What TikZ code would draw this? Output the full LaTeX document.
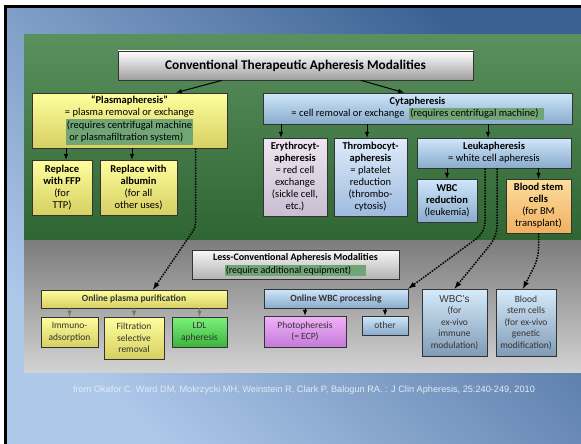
\documentclass[tikz,border=0pt]{standalone}
\usepackage{fontspec}
\setmainfont{Carlito}
\newfontfamily\arialfont{Liberation Sans}
\usetikzlibrary{arrows}

\definecolor{slidedark}{HTML}{3B6193}
\definecolor{slidemid}{HTML}{7AA0D0}
\definecolor{slidelight}{HTML}{AEC8EA}
\definecolor{grtop}{HTML}{5A905E}
\definecolor{grbot}{HTML}{2F6433}
\definecolor{gytop}{HTML}{7C7C7C}
\definecolor{gybot}{HTML}{D2D2D2}
\definecolor{hl}{HTML}{72A575}
\definecolor{yltop}{HTML}{FFFF9E}
\definecolor{ylbot}{HTML}{D6CF62}
\definecolor{bltop}{HTML}{CFE7FA}
\definecolor{blbot}{HTML}{89ABCB}
\definecolor{lltop}{HTML}{EEE6F0}
\definecolor{llbot}{HTML}{C9BDD1}
\definecolor{tbtop}{HTML}{DFEBF9}
\definecolor{tbbot}{HTML}{9EBBE0}
\definecolor{ortop}{HTML}{FDDE9E}
\definecolor{orbot}{HTML}{F0B060}
\definecolor{lgtop}{HTML}{7CF27C}
\definecolor{lgbot}{HTML}{3CB43C}
\definecolor{pktop}{HTML}{F2B2F8}
\definecolor{pkbot}{HTML}{C47AD8}
\definecolor{sttop}{HTML}{D6EBFB}
\definecolor{stbot}{HTML}{7F9BB6}
\definecolor{grarrow}{HTML}{7A7A62}
\definecolor{srctext}{HTML}{E2EAF4}

\setlength{\fboxsep}{1pt}

\tikzset{
  box/.style={draw=black!80, line width=0.7pt, align=center, inner sep=1pt,
    font=\fontsize{10.5}{12}\selectfont},
  lowbox/.style={box, text=black!80, font=\fontsize{9.5}{11.5}\selectfont},
  yellowbox/.style={box, top color=yltop, bottom color=ylbot},
  bluebox/.style={box, top color=bltop, bottom color=blbot},
  lilacbox/.style={box, top color=lltop, bottom color=llbot},
  thrombobox/.style={box, top color=tbtop, bottom color=tbbot},
  orangebox/.style={box, top color=ortop, bottom color=orbot},
  greybox/.style={box, top color=white, bottom color=black!38},
  arr/.style={-latex, line width=1pt},
  grayarr/.style={-latex, line width=1pt, grarrow},
  dotarr/.style={-latex, line width=1.5pt, dash pattern=on 1.5pt off 1.2pt}
}

\begin{document}
\begin{tikzpicture}[x=1pt, y=-1pt]
\useasboundingbox (0,0) rectangle (581,444);
% slide and panels
\fill[white] (0,0) rectangle (581,444);
\shade[top color=slidedark, middle color=slidemid, bottom color=slidelight, shading angle=-45] (7,8) rectangle (581,444);
\draw[black, line width=2.5pt] (5.5,444) -- (5.5,6.5) -- (581,6.5);
\shade[top color=grtop, bottom color=grbot] (24,35) rectangle (581,240);
\shade[top color=gytop, bottom color=gybot] (24,240) rectangle (581,372);

% conventional modalities
\node[greybox, minimum width=355pt, minimum height=29pt, font=\bfseries\fontsize{13.3}{15}\selectfont] (title) at (295.5,65.5) {Conventional Therapeutic Apheresis Modalities};

\node[yellowbox, minimum width=195pt, minimum height=55pt] (plasma) at (129.5,120.5) {\textbf{“Plasmapheresis”}\\= plasma removal or exchange\\[1pt]
  \colorbox{hl}{\begin{tabular}{@{}l@{}}(requires centrifugal machine\\ \ or plasmafiltration system)\end{tabular}}};
\node[yellowbox, minimum width=60pt, minimum height=55pt] (ffp) at (62,187.5) {\textbf{Replace}\\\textbf{with FFP}\\(for\\TTP)};
\node[yellowbox, minimum width=77pt, minimum height=55pt] (albumin) at (138.5,187.5) {\textbf{Replace with}\\\textbf{albumin}\\(for all\\other uses)};

\node[bluebox, minimum width=309pt, minimum height=31pt] (cyta) at (417.5,108.5) {\textbf{Cytapheresis}\\= cell removal or exchange \ \colorbox{hl}{(requires centrifugal machine)\hspace{4pt}}};
\node[lilacbox, minimum width=64pt, minimum height=78pt] (ery) at (295,177) {\textbf{Erythrocyt-}\\\textbf{apheresis}\\= red cell\\exchange\\(sickle cell,\\etc.)};
\node[thrombobox, minimum width=73pt, minimum height=78pt] (thrombo) at (370.5,177) {\textbf{Thrombocyt-}\\\textbf{apheresis}\\= platelet\\reduction\\(thrombo-\\cytosis)};
\node[bluebox, minimum width=154pt, minimum height=30pt] (leuka) at (494,153) {\textbf{Leukapheresis}\\= white cell apheresis};
\node[bluebox, minimum width=60pt, minimum height=43pt] (wbcred) at (447,200.5) {\textbf{WBC}\\\textbf{reduction}\\(leukemia)};
\node[orangebox, minimum width=65pt, minimum height=54pt] (stem) at (538.5,206) {\textbf{Blood stem}\\\textbf{cells}\\(for BM\\transplant)};

% less-conventional modalities
\node[greybox, top color=white!97!black, bottom color=black!30, minimum width=207pt, minimum height=29pt, font=\fontsize{10}{13}\selectfont] (lessconv) at (295.5,264.5) {\textbf{Less-Conventional Apheresis Modalities}\\\colorbox{hl}{(require additional equipment)\hspace{14pt}}};

\node[lowbox, top color=yltop, bottom color=ylbot, minimum width=186pt, minimum height=18pt] (onplasma) at (134,299) {\textbf{Online plasma purification}};
\node[lowbox, top color=yltop, bottom color=ylbot, minimum width=57pt, minimum height=30pt] (immuno) at (69.5,332) {Immuno-\\adsorption};
\node[lowbox, top color=yltop, bottom color=ylbot, minimum width=60pt, minimum height=42pt] (filtr) at (134,338) {Filtration\\selective\\removal};
\node[lowbox, top color=lgtop, bottom color=lgbot, minimum width=55pt, minimum height=30pt] (ldl) at (199.5,332) {LDL\\apheresis};

\node[lowbox, top color=bltop, bottom color=blbot, minimum width=144pt, minimum height=19pt] (onwbc) at (336,298.5) {\textbf{Online WBC processing}};
\node[lowbox, top color=pktop, bottom color=pkbot, minimum width=82pt, minimum height=31pt] (photo) at (305,331.5) {Photopheresis\\(= ECP)};
\node[lowbox, top color=bltop, bottom color=blbot, minimum width=46pt, minimum height=19pt] (other) at (385,325.5) {other};
\node[lowbox, top color=sttop, bottom color=stbot, minimum width=65pt, minimum height=67pt] (wbcs) at (454.5,322.5) {{\arialfont\fontsize{10}{11.5}\selectfont WBC’s}\\(for\\ex-vivo\\immune\\modulation)};
\node[lowbox, top color=sttop, bottom color=stbot, minimum width=60pt, minimum height=67pt] (stemx) at (526,322.5) {Blood\\stem cells\\(for ex-vivo\\genetic\\modification)};

\node[font=\arialfont\fontsize{9.2}{10}\selectfont, text=srctext] (source) at (304,390) {from Okafor C, Ward DM, Mokrzycki MH, Weinstein R, Clark P, Balogun RA. : J Clin Apheresis, 25:240-249, 2010};

% solid arrows
\draw[arr] ([xshift=-73.5pt]title.south) -- ([xshift=46.5pt]plasma.north);
\draw[arr] ([xshift=65.5pt]title.south) -- ([xshift=-13.5pt]cyta.north);
\draw[arr] ([xshift=4pt]ffp.north |- plasma.south) -- ([xshift=4pt]ffp.north);
\draw[arr] ([xshift=-6.5pt]albumin.north |- plasma.south) -- ([xshift=-6.5pt]albumin.north);
\draw[arr] ([xshift=-14pt]ery.north |- cyta.south) -- ([xshift=-14pt]ery.north);
\draw[arr] ([xshift=-3.5pt]thrombo.north |- cyta.south) -- ([xshift=-3.5pt]thrombo.north);
\draw[arr] ([xshift=-6pt]leuka.north |- cyta.south) -- ([xshift=-6pt]leuka.north);
\draw[arr] (wbcred.north |- leuka.south) -- (wbcred.north);
\draw[arr] (stem.north |- leuka.south) -- (stem.north);
\draw[arr] (photo.north |- onwbc.south) -- (photo.north);
\draw[arr] (other.north |- onwbc.south) -- (other.north);
\foreach \n in {immuno,filtr,ldl}
  \draw[grayarr] (\n.north |- onplasma.south) -- (\n.north);

% dotted arrows into the less-conventional modalities
\draw[dotarr, rounded corners=4pt] ([xshift=66pt]plasma.south) -- ++(0,79) -- ([xshift=19pt]onplasma.north);
\draw[dotarr, rounded corners=10pt] ([xshift=-9pt]leuka.south) -- ++(0,64) -- (onwbc.north east);
\draw[dotarr, rounded corners=10pt] ([xshift=3pt]leuka.south) -- ++(0,68) -- (wbcs.north);
\draw[dotarr, rounded corners=10pt] (stem.south) -- ++(0,25) -- ([xshift=-3pt]stemx.north);
\end{tikzpicture}
\end{document}
